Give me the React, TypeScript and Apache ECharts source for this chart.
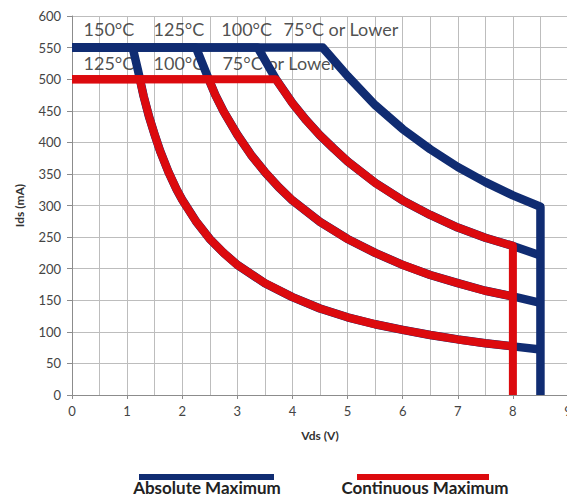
import React, { useEffect, useRef } from "react";
import * as echarts from "echarts";

// Absolute maximum curves (blue), Vds (V) vs Ids (mA)
const blue150: number[][] = [[0,550],[1.1,550],[1.2,513],[1.3,473],[1.4,440],[1.5,412],[1.6,386],[1.75,353],[1.9,325],[2.0,309],[2.25,275],[2.5,247],[2.75,225],[3.0,206],[3.5,177],[4.0,155],[4.5,137],[5.0,123],[5.5,112],[6.0,103],[6.5,95],[7.0,88],[7.5,82],[8.0,77],[8.5,72]];
const blue125: number[][] = [[0,550],[2.25,550],[2.48,500],[2.6,475],[2.75,449],[3.0,412],[3.25,380],[3.5,353],[3.75,329],[4.0,308],[4.5,274],[5.0,247],[5.5,225],[6.0,206],[6.5,190],[7.0,177],[7.5,165],[8.0,156],[8.5,146]];
const blue100: number[][] = [[0,550],[3.37,550],[3.7,500],[4.0,462],[4.25,435],[4.5,411],[4.75,390],[5.0,370],[5.5,336],[6.0,308],[6.5,285],[7.0,265],[7.5,249],[8.0,236],[8.5,221]];
const blue75: number[][] = [[0,550],[4.55,550],[5.0,505],[5.5,459],[6.0,421],[6.5,389],[7.0,361],[7.5,337],[8.0,316],[8.5,298],[8.5,0]];

// Continuous maximum curves (red)
const red125: number[][] = [[0,500],[1.23,500],[1.3,473],[1.4,440],[1.5,412],[1.6,386],[1.75,353],[1.9,325],[2.0,309],[2.25,275],[2.5,247],[2.75,225],[3.0,206],[3.5,177],[4.0,155],[4.5,137],[5.0,123],[5.5,112],[6.0,103],[6.5,95],[7.0,88],[7.5,82],[8.0,77]];
const red100: number[][] = [[0,500],[2.48,500],[2.6,475],[2.75,449],[3.0,412],[3.25,380],[3.5,353],[3.75,329],[4.0,308],[4.5,274],[5.0,247],[5.5,225],[6.0,206],[6.5,190],[7.0,177],[7.5,165],[8.0,156]];
const red75: number[][] = [[0,500],[3.7,500],[4.0,462],[4.25,435],[4.5,411],[4.75,390],[5.0,370],[5.5,336],[6.0,308],[6.5,285],[7.0,265],[7.5,249],[8.0,236],[8.0,0]];

// Temperature annotations: [Vds, Ids, text]
const tempLabels: (number | string)[][] = [
  [0.2, 579, "150°C"],
  [1.47, 579, "125°C"],
  [2.7, 579, "100°C"],
  [3.83, 579, "75°C or Lower"],
  [0.2, 525, "125°C"],
  [1.47, 525, "100°C"],
  [2.72, 525, "75°C or Lower"],
];

const legendNames = ["Absolute Maximum", "Continuous Maximum"];
const BLUE = "#102c72";
const RED = "#dc0a0e";
const FONT = "Lato";

export default function App() {
  const ref = useRef<HTMLDivElement>(null);
  useEffect(() => {
    if (!ref.current) return;
    const chart = echarts.init(ref.current, undefined, { renderer: "svg" });
    const lineSeries = (data: number[][], color: string, width: number, name: string) => ({
      type: "line",
      name,
      data,
      showSymbol: false,
      symbol: "none",
      smooth: false,
      silent: true,
      z: 2,
      lineStyle: { color, width, cap: "butt", join: "round" },
      emphasis: { disabled: true },
    });
    chart.setOption({
      animation: false,
      textStyle: { fontFamily: FONT },
      grid: { left: 72, top: 16, width: 496, height: 379, containLabel: false, outerBoundsMode: "none" },
      xAxis: {
        type: "value",
        min: 0,
        max: 9,
        interval: 1,
        name: "Vds (V)",
        nameLocation: "middle",
        nameGap: 34,
        nameTextStyle: { fontFamily: FONT, fontWeight: "bold", fontSize: 12, color: "#333" },
        axisLine: { show: true, lineStyle: { color: "#8c8c8c", width: 1 } },
        axisTick: { show: true, length: 4, lineStyle: { color: "#8c8c8c" } },
        axisLabel: { fontFamily: FONT, fontSize: 13, color: "#444", margin: 9 },
        splitLine: { show: true, lineStyle: { color: "#bdbdbd", width: 1 } },
        minorTick: { show: false, splitNumber: 2 },
        minorSplitLine: { show: true, lineStyle: { color: "#bdbdbd", width: 1 } },
      },
      yAxis: {
        type: "value",
        min: 0,
        max: 600,
        interval: 50,
        name: "Ids (mA)",
        nameLocation: "middle",
        nameGap: 47,
        nameRotate: 90,
        nameTextStyle: { fontFamily: FONT, fontWeight: "bold", fontSize: 12, color: "#333" },
        axisLine: { show: true, lineStyle: { color: "#8c8c8c", width: 1 } },
        axisTick: { show: true, length: 5, lineStyle: { color: "#8c8c8c" } },
        axisLabel: { fontFamily: FONT, fontSize: 13, color: "#444", margin: 11 },
        splitLine: { show: true, lineStyle: { color: "#bdbdbd", width: 1 } },
      },
      series: [
        {
          type: "scatter",
          data: tempLabels,
          symbolSize: 1,
          silent: true,
          z: 1,
          itemStyle: { color: "rgba(0,0,0,0)" },
          label: {
            show: true,
            position: "right",
            distance: 0,
            formatter: (p: any) => p.value[2],
            fontFamily: FONT,
            fontSize: 18,
            color: "#222",
          },
          emphasis: { disabled: true },
        },
        lineSeries(blue150, BLUE, 8.5, legendNames[0]),
        lineSeries(blue125, BLUE, 8.5, legendNames[0]),
        lineSeries(blue100, BLUE, 8.5, legendNames[0]),
        lineSeries(blue75, BLUE, 8.5, legendNames[0]),
        lineSeries(red125, RED, 8, legendNames[1]),
        lineSeries(red100, RED, 8, legendNames[1]),
        lineSeries(red75, RED, 8, legendNames[1]),
      ],
      graphic: [
        { type: "line", shape: { x1: 139, y1: 477, x2: 274, y2: 477 }, style: { stroke: BLUE, lineWidth: 6 } },
        { type: "line", shape: { x1: 357, y1: 477, x2: 489, y2: 477 }, style: { stroke: RED, lineWidth: 6 } },
        {
          type: "text", x: 207, y: 487,
          style: { text: legendNames[0], fill: "#222", font: `bold 17px ${FONT}`, textAlign: "center", textVerticalAlign: "middle" },
        },
        {
          type: "text", x: 425, y: 487,
          style: { text: legendNames[1], fill: "#222", font: `bold 17px ${FONT}`, textAlign: "center", textVerticalAlign: "middle" },
        },
      ],
    });
    return () => chart.dispose();
  }, []);
  return (
    <div
      ref={ref}
      style={{ position: "fixed", left: 0, top: 0, width: 567, height: 497, background: "#fff" }}
    />
  );
}
